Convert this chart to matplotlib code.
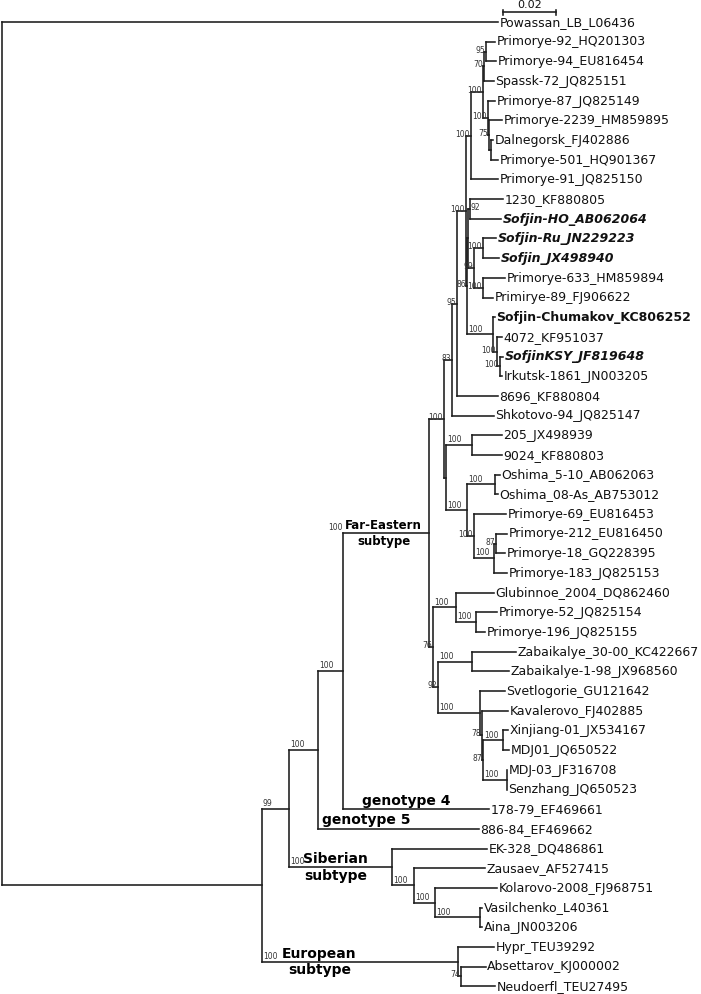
import matplotlib
matplotlib.use("Agg")
import matplotlib.pyplot as plt

# ---------------- data ----------------
leaf_names = [
    "Powassan_LB_L06436", "Primorye-92_HQ201303", "Primorye-94_EU816454", "Spassk-72_JQ825151",
    "Primorye-87_JQ825149", "Primorye-2239_HM859895", "Dalnegorsk_FJ402886", "Primorye-501_HQ901367",
    "Primorye-91_JQ825150", "1230_KF880805", "Sofjin-HO_AB062064", "Sofjin-Ru_JN229223",
    "Sofjin_JX498940", "Primorye-633_HM859894", "Primirye-89_FJ906622", "Sofjin-Chumakov_KC806252",
    "4072_KF951037", "SofjinKSY_JF819648", "Irkutsk-1861_JN003205", "8696_KF880804",
    "Shkotovo-94_JQ825147", "205_JX498939", "9024_KF880803", "Oshima_5-10_AB062063",
    "Oshima_08-As_AB753012", "Primorye-69_EU816453", "Primorye-212_EU816450", "Primorye-18_GQ228395",
    "Primorye-183_JQ825153", "Glubinnoe_2004_DQ862460", "Primorye-52_JQ825154", "Primorye-196_JQ825155",
    "Zabaikalye_30-00_KC422667", "Zabaikalye-1-98_JX968560", "Svetlogorie_GU121642", "Kavalerovo_FJ402885",
    "Xinjiang-01_JX534167", "MDJ01_JQ650522", "MDJ-03_JF316708", "Senzhang_JQ650523",
    "178-79_EF469661", "886-84_EF469662", "EK-328_DQ486861", "Zausaev_AF527415",
    "Kolarovo-2008_FJ968751", "Vasilchenko_L40361", "Aina_JN003206", "Hypr_TEU39292",
    "Absettarov_KJ000002", "Neudoerfl_TEU27495",
]
# cumulative distance from root to each tip (substitutions/site)
leaf_depth = [
    0.1872, 0.1860, 0.1864, 0.1857, 0.1860, 0.1887, 0.1853, 0.1872,
    0.1872, 0.1891, 0.1883, 0.1864, 0.1875, 0.1898, 0.1853, 0.1860,
    0.1887, 0.1891, 0.1887, 0.1872, 0.1857, 0.1887, 0.1887, 0.1879,
    0.1872, 0.1902, 0.1906, 0.1898, 0.1906, 0.1857, 0.1868, 0.1823,
    0.1940, 0.1913, 0.1898, 0.1909, 0.1909, 0.1913, 0.1906, 0.1906,
    0.1838, 0.1800, 0.1830, 0.1823, 0.1868, 0.1811, 0.1811, 0.1857,
    0.1826, 0.1860,
]
bold_italic_leaves = ["Sofjin-HO_AB062064", "Sofjin-Ru_JN229223", "Sofjin_JX498940", "SofjinKSY_JF819648"]
bold_leaves = ["Sofjin-Chumakov_KC806252"]

node_names = [
    "root", "TBEV", "N99", "G5", "G4", "FE", "F1", "N83", "N95", "N100x",
    "n100c", "n100b", "n70", "n95", "n100a", "n75", "nDal", "N86", "Nq", "N92",
    "N99s", "N100S", "N100P", "NChum", "N4072", "NKSY", "F1b", "N205", "NOsh", "N_Osh",
    "N_P69", "N212", "N87a", "F2", "NGlub", "N52", "N92b", "NZab", "NSvet", "N78",
    "N87b", "NX", "NMDJ", "Sib", "S1", "S2", "S3", "Eur", "N74",
]
node_children = [
    ["Powassan_LB_L06436", "TBEV"], ["N99", "Eur"], ["G5", "Sib"], ["G4", "886-84_EF469662"],
    ["FE", "178-79_EF469661"], ["F1", "F2"], ["N83", "F1b"], ["N95", "Shkotovo-94_JQ825147"],
    ["N100x", "8696_KF880804"], ["n100c", "N86"],
    ["n100b", "Primorye-91_JQ825150"], ["n70", "n100a"], ["n95", "Spassk-72_JQ825151"],
    ["Primorye-92_HQ201303", "Primorye-94_EU816454"], ["Primorye-87_JQ825149", "n75"],
    ["Primorye-2239_HM859895", "nDal"], ["Dalnegorsk_FJ402886", "Primorye-501_HQ901367"],
    ["Nq", "NChum"], ["N92", "N99s"], ["1230_KF880805", "Sofjin-HO_AB062064"],
    ["N100S", "N100P"], ["Sofjin-Ru_JN229223", "Sofjin_JX498940"],
    ["Primorye-633_HM859894", "Primirye-89_FJ906622"], ["Sofjin-Chumakov_KC806252", "N4072"],
    ["4072_KF951037", "NKSY"], ["SofjinKSY_JF819648", "Irkutsk-1861_JN003205"],
    ["N205", "NOsh"], ["205_JX498939", "9024_KF880803"], ["N_Osh", "N_P69"],
    ["Oshima_5-10_AB062063", "Oshima_08-As_AB753012"],
    ["Primorye-69_EU816453", "N212"], ["N87a", "Primorye-183_JQ825153"],
    ["Primorye-212_EU816450", "Primorye-18_GQ228395"], ["NGlub", "N92b"],
    ["Glubinnoe_2004_DQ862460", "N52"], ["Primorye-52_JQ825154", "Primorye-196_JQ825155"],
    ["NZab", "NSvet"], ["Zabaikalye_30-00_KC422667", "Zabaikalye-1-98_JX968560"],
    ["Svetlogorie_GU121642", "N78"], ["Kavalerovo_FJ402885", "N87b"],
    ["NX", "NMDJ"], ["Xinjiang-01_JX534167", "MDJ01_JQ650522"], ["MDJ-03_JF316708", "Senzhang_JQ650523"],
    ["EK-328_DQ486861", "S1"], ["Zausaev_AF527415", "S2"], ["Kolarovo-2008_FJ968751", "S3"],
    ["Vasilchenko_L40361", "Aina_JN003206"], ["Hypr_TEU39292", "N74"],
    ["Absettarov_KJ000002", "Neudoerfl_TEU27495"],
]
node_depth = [
    0.0, 0.0981, 0.1083, 0.1192, 0.1287, 0.1611, 0.1668, 0.1698, 0.1717, 0.1751,
    0.1770, 0.1815, 0.1819, 0.1826, 0.1834, 0.1838, 0.1845, 0.1755, 0.1758, 0.1766,
    0.1781, 0.1815, 0.1815, 0.1853, 0.1868, 0.1879, 0.1675, 0.1774, 0.1755, 0.1860,
    0.1781, 0.1857, 0.1864, 0.1626, 0.1713, 0.1789, 0.1645, 0.1774, 0.1804, 0.1811,
    0.1815, 0.1891, 0.1906, 0.1472, 0.1555, 0.1634, 0.1804, 0.1721, 0.1732,
]
node_support = [
    None, None, 99, 100, 100, 100, 100, 83, 95, 100,
    100, 100, 70, 95, 100, 75, None, 86, None, 92,
    99, 100, 100, 100, 100, 100, None, 100, 100, 100,
    100, 100, 87, 76, 100, 100, 92, 100, 100, 78,
    87, 100, 100, 100, 100, 100, 100, 100, 74,
]
clade_names = {"FE": ("Far-Eastern", "subtype"), "Sib": ("Siberian", "subtype"), "Eur": ("European", "subtype")}
genotype_names = {"178-79_EF469661": "genotype 4", "886-84_EF469662": "genotype 5"}
scale_length = 0.02

# ---------------- layout ----------------
W, H = 701, 994
PX_PER_UNIT = 2650.0
X0_PX = 2.0
Y0_PX, DY_PX = 22.0, 19.68

fig = plt.figure(figsize=(W / 100, H / 100), dpi=100)
ax = fig.add_axes([0, 0, 1, 1])
ax.set_xlim(-X0_PX / PX_PER_UNIT, (W - X0_PX) / PX_PER_UNIT)
ax.set_ylim((H - Y0_PX) / DY_PX, -Y0_PX / DY_PX)
ax.axis("off")

def px_x(p):
    return p / PX_PER_UNIT

def px_y(p):
    return p / DY_PX

depth = {n: d for n, d in zip(leaf_names, leaf_depth)}
depth.update({n: d for n, d in zip(node_names, node_depth)})
children = dict(zip(node_names, node_children))
support = dict(zip(node_names, node_support))
parent = {}
for n, ch in children.items():
    for c in ch:
        parent[c] = n

ypos = {n: i for i, n in enumerate(leaf_names)}

def get_y(n):
    if n in ypos:
        return ypos[n]
    ys = [get_y(c) for c in children[n]]
    ypos[n] = (min(ys) + max(ys)) / 2.0
    return ypos[n]

get_y("root")

LC = "#1c1c1c"
LW = 1.15

# branches
for n in node_names:
    ch = children[n]
    ys = [ypos[c] for c in ch]
    x = depth[n]
    ax.plot([x, x], [min(ys), max(ys)], color=LC, lw=LW, solid_capstyle="projecting")
    for c in ch:
        ax.plot([x, depth[c]], [ypos[c], ypos[c]], color=LC, lw=LW, solid_capstyle="projecting")

# leaf labels
for n in leaf_names:
    kw = {}
    if n in bold_italic_leaves:
        kw = dict(fontweight="bold", fontstyle="italic")
    elif n in bold_leaves:
        kw = dict(fontweight="bold")
    ax.text(depth[n] + px_x(1.5), ypos[n] - px_y(1.2), n, fontsize=9, va="center_baseline", ha="left",
            color="#111111", family="DejaVu Sans", **kw)

# support labels
placed = []
def overlaps(x0, x1, yc):
    for (a0, a1, b) in placed:
        if x0 < a1 and x1 > a0 and abs(yc - b) < 6:
            return True
    return False

def order(n):
    yield n
    for c in children.get(n, []):
        if c in children:
            yield from order(c)

SFS = 5.5
SC = "#333333"
for n in order("root"):
    s = support[n]
    if s is None:
        continue
    p = parent[n]
    txt = str(s)
    wpx = len(txt) * 4.8
    nx_px = X0_PX + depth[n] * PX_PER_UNIT
    px_px = X0_PX + depth[p] * PX_PER_UNIT
    y_px = Y0_PX + ypos[n] * DY_PX
    if n == "FE":
        ax.text(depth[p] - px_x(0.5), ypos[n] - px_y(1.0), txt, fontsize=SFS, ha="right",
                va="bottom", color=SC)
        placed.append((px_px - wpx, px_px, y_px - 4))
        continue
    if nx_px - px_px >= 19:
        ax.text(depth[p] + px_x(1.0), ypos[n] - px_y(0.8), txt, fontsize=SFS, ha="left",
                va="bottom", color=SC)
        placed.append((px_px + 1, px_px + 1 + wpx, y_px - 4))
    else:
        x0, x1 = nx_px - 1 - wpx, nx_px - 1
        if overlaps(x0, x1, y_px - 2):
            ax.text(depth[n] + px_x(1.0), ypos[n] - px_y(1.5), txt, fontsize=SFS, ha="left",
                    va="center", color=SC)
            placed.append((nx_px + 1, nx_px + 1 + wpx, y_px - 2))
        else:
            ax.text(depth[n] - px_x(1.0), ypos[n] - px_y(1.5), txt, fontsize=SFS, ha="right",
                    va="center", color=SC)
            placed.append((x0, x1, y_px - 2))

# clade annotations
clade_center_offset = {"FE": 40.5, "Sib": 46.5, "Eur": 57.5}
clade_fs = {"FE": 8.5, "Sib": 10, "Eur": 10}
for n, (l1, l2) in clade_names.items():
    cx = depth[parent[n]] + px_x(clade_center_offset[n])
    ax.text(cx, ypos[n] - px_y(1.0), l1, fontsize=clade_fs[n], fontweight="bold",
            ha="center", va="bottom", color="black")
    ax.text(cx, ypos[n] + px_y(1.5), l2, fontsize=clade_fs[n], fontweight="bold",
            ha="center", va="top", color="black")

genotype_offset = {"178-79_EF469661": 19, "886-84_EF469662": 4}
for leaf, lab in genotype_names.items():
    ax.text(depth[parent[leaf]] + px_x(genotype_offset[leaf]), ypos[leaf] - px_y(1.5), lab,
            fontsize=10, fontweight="bold", ha="left", va="bottom", color="black")

# scale bar
sb_x0 = px_x(503 - X0_PX)
sb_y = px_y(12.5 - Y0_PX)
ax.plot([sb_x0, sb_x0 + scale_length], [sb_y, sb_y], color=LC, lw=LW)
for xx in (sb_x0, sb_x0 + scale_length):
    ax.plot([xx, xx], [sb_y - px_y(2.5), sb_y + px_y(2.5)], color=LC, lw=LW)
ax.text(sb_x0 + scale_length / 2, sb_y - px_y(2.0), f"{scale_length:.2f}", fontsize=8,
        ha="center", va="bottom", color="#111111")

fig.savefig("out.png", dpi=100)
